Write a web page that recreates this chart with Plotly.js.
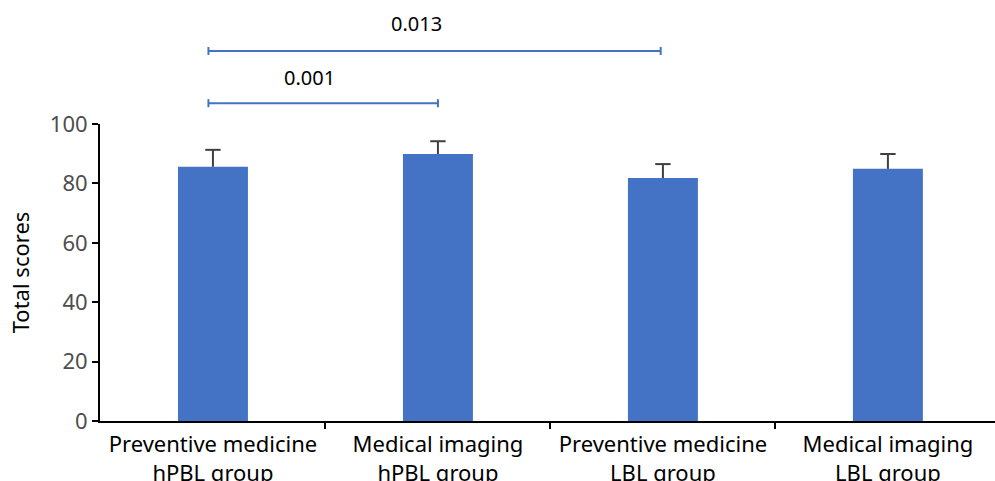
<!DOCTYPE html>
<html>
<head>
<meta charset="utf-8">
<script src="https://cdn.plot.ly/plotly-3.0.1.min.js"></script>
<style>html,body{margin:0;padding:0;background:#fff;}#chart{width:995px;height:481px;}</style>
</head>
<body>
<div id="chart"></div>
<script>
// Data
const categories = [
  "Preventive medicine<br>hPBL group",
  "Medical imaging<br>hPBL group",
  "Preventive medicine<br>LBL group",
  "Medical imaging<br>LBL group"
];
const meanScores = [85.6, 89.9, 81.8, 84.9];
const sdScores = [5.7, 4.3, 4.7, 5.0];
const yTickVals = [0, 20, 40, 60, 80, 100];
// Significance comparisons: from/to category position, bracket level (score units), p-value label
const bracketFrom = [-0.02, -0.02];
const bracketTo = [1.0, 1.99];
const bracketLevel = [107.0, 124.6];
const bracketLabel = ["0.001", "0.013"];
const labelX = [0.43, 0.905];
const labelLevel = [115.8, 133.7];

const yMax = 100;
const blue = "#4472C4";
const errColor = "#404040";
const xs = categories.map((_, i) => i);

const trace = {
  type: "bar",
  x: xs,
  y: meanScores,
  width: 0.311,
  marker: { color: blue },
  error_y: { type: "data", array: sdScores, symmetric: false, arrayminus: sdScores.map(() => 0), color: errColor, thickness: 2, width: 0 },
  hoverinfo: "skip"
};
// caps at the top of each error bar only
const caps = {
  type: "scatter", mode: "markers",
  x: xs,
  y: meanScores.map((m, i) => m + sdScores[i]),
  marker: { symbol: "line-ew-open", size: 11, color: errColor, line: { color: errColor, width: 2 } },
  cliponaxis: false,
  hoverinfo: "skip"
};

const shapes = [];
const annotations = [];
const capHalf = 4 / 297;
for (let i = 0; i < bracketFrom.length; i++) {
  const yp = bracketLevel[i] / yMax;
  shapes.push({ type: "line", xref: "x", yref: "paper", x0: bracketFrom[i], x1: bracketTo[i], y0: yp, y1: yp, line: { color: blue, width: 2 } });
  shapes.push({ type: "line", xref: "x", yref: "paper", x0: bracketFrom[i], x1: bracketFrom[i], y0: yp - capHalf, y1: yp + capHalf, line: { color: blue, width: 2 } });
  shapes.push({ type: "line", xref: "x", yref: "paper", x0: bracketTo[i], x1: bracketTo[i], y0: yp - capHalf, y1: yp + capHalf, line: { color: blue, width: 2 } });
  annotations.push({ xref: "x", yref: "paper", x: labelX[i], y: labelLevel[i] / yMax, text: bracketLabel[i], showarrow: false, xanchor: "center", yanchor: "middle", font: { family: "Noto Sans", size: 20, color: "#000" } });
}

const layout = {
  width: 995, height: 481,
  margin: { l: 100, r: 0, t: 124, b: 60 },
  paper_bgcolor: "#fff", plot_bgcolor: "#fff",
  showlegend: false,
  font: { family: "Noto Sans", size: 22, color: "#000" },
  xaxis: {
    type: "linear",
    range: [-0.502, 3.476],
    tickmode: "array",
    tickvals: xs,
    ticktext: categories,
    showline: true, linecolor: "#000", linewidth: 2,
    ticks: "", showgrid: false, zeroline: false,
    ticklabelstandoff: 3,
    tickfont: { family: "Noto Sans", size: 22, color: "#000" }
  },
  xaxis2: {
    overlaying: "x", anchor: "y", side: "bottom",
    range: [-0.502, 3.476],
    tickmode: "array", tickvals: [0.5, 1.5, 2.5],
    ticks: "outside", ticklen: 7, tickwidth: 2, tickcolor: "#000",
    showticklabels: false, showgrid: false, zeroline: false, showline: false
  },
  yaxis: {
    range: [0, yMax],
    tickmode: "array",
    tickvals: yTickVals,
    showline: true, linecolor: "#000", linewidth: 2,
    ticks: "outside", ticklen: 6, tickwidth: 2, tickcolor: "#000",
    showgrid: false, zeroline: false,
    tickfont: { family: "Noto Sans", size: 22, color: "#4d4d4d" },
    title: { text: "Total scores", font: { family: "Noto Sans", size: 22, color: "#000" }, standoff: 14 }
  },
  shapes: shapes,
  annotations: annotations
};

const dummy = { type: "scatter", x: [], y: [], xaxis: "x2", yaxis: "y", hoverinfo: "skip" };

Plotly.newPlot("chart", [trace, caps, dummy], layout, { staticPlot: true });
</script>
</body>
</html>
